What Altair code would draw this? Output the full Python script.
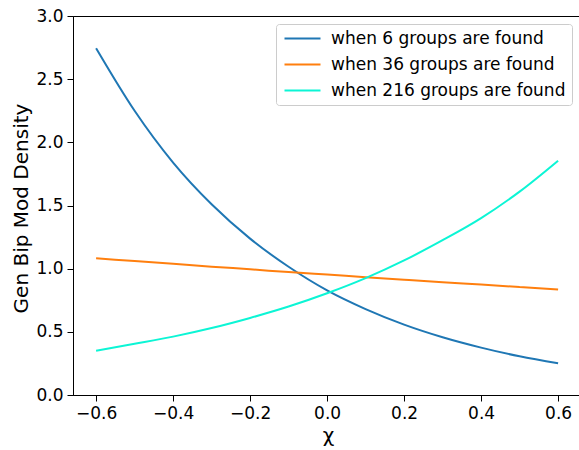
import altair as alt
import pandas as pd

# chi values where each curve is sampled
chi = [-0.6, -0.5, -0.4, -0.3, -0.2, -0.1, 0.0, 0.1, 0.2, 0.3, 0.4, 0.5, 0.6]

# density curves for each number of groups found
density_6 = [2.745, 2.25, 1.84, 1.51, 1.238, 1.015, 0.828, 0.68, 0.557, 0.457, 0.375, 0.306, 0.251]
density_36 = [1.082, 1.060, 1.038, 1.016, 0.995, 0.973, 0.953, 0.933, 0.913, 0.893, 0.874, 0.855, 0.836]
density_216 = [0.35, 0.405, 0.462, 0.53, 0.61, 0.70, 0.805, 0.925, 1.065, 1.225, 1.40, 1.61, 1.855]

series_names = [
    "when 6 groups are found",
    "when 36 groups are found",
    "when 216 groups are found",
]
series_colors = ["#1f77b4", "#ff7f0e", "#0cf5d5"]

rows = []
for name, values in zip(series_names, [density_6, density_36, density_216]):
    for x, y in zip(chi, values):
        rows.append({"chi": x, "density": y, "series": name})
df = pd.DataFrame(rows)

FONT = "DejaVu Sans"

chart = (
    alt.Chart(df)
    .mark_line(strokeWidth=2, interpolate="monotone")
    .encode(
        x=alt.X(
            "chi:Q",
            scale=alt.Scale(domain=[-0.66, 0.6543], nice=False, zero=False),
            axis=alt.Axis(
                values=[-0.6, -0.4, -0.2, 0.0, 0.2, 0.4, 0.6],
                format=".1f",
                title="χ",
                titleX=255,
                titleY=46,
                titleBaseline="alphabetic",
            ),
        ),
        y=alt.Y(
            "density:Q",
            scale=alt.Scale(domain=[0, 3], nice=False),
            axis=alt.Axis(
                values=[0, 0.5, 1.0, 1.5, 2.0, 2.5, 3.0],
                format=".1f",
                title="Gen Bip Mod Density",
                titleX=-52,
                titleY=192,
                titleAngle=-90,
                titleBaseline="middle",
                titleAlign="center",
            ),
        ),
        color=alt.Color(
            "series:N",
            sort=series_names,
            scale=alt.Scale(domain=series_names, range=series_colors),
            legend=alt.Legend(
                title=None,
                orient="none",
                legendX=203,
                legendY=8,
                symbolType="M-1,0H5",
                symbolSize=144,
                symbolStrokeWidth=2,
                labelOffset=32,
                labelFontSize=17,
                labelFont=FONT,
                labelColor="black",
                labelLimit=400,
                rowPadding=8,
                padding=6,
                strokeColor="#cccccc",
                fillColor="rgba(255,255,255,0.8)",
                cornerRadius=3,
            ),
        ),
        detail="series:N",
    )
    .properties(
        width=506,
        height=379,
        autosize=alt.AutoSizeParams(type="none"),
        padding={"left": 73, "top": 16, "right": 0, "bottom": 55},
    )
    .configure_view(stroke="black", strokeWidth=1)
    .configure_axis(
        grid=False,
        domainColor="black",
        tickColor="black",
        tickSize=6,
        labelPadding=4,
        labelFont=FONT,
        labelFontSize=17,
        labelColor="black",
        titleFont=FONT,
        titleFontSize=20,
        titleFontWeight="normal",
        titleColor="black",
    )
)

chart.save("out.html", embed_options={"renderer": "svg", "actions": False})
